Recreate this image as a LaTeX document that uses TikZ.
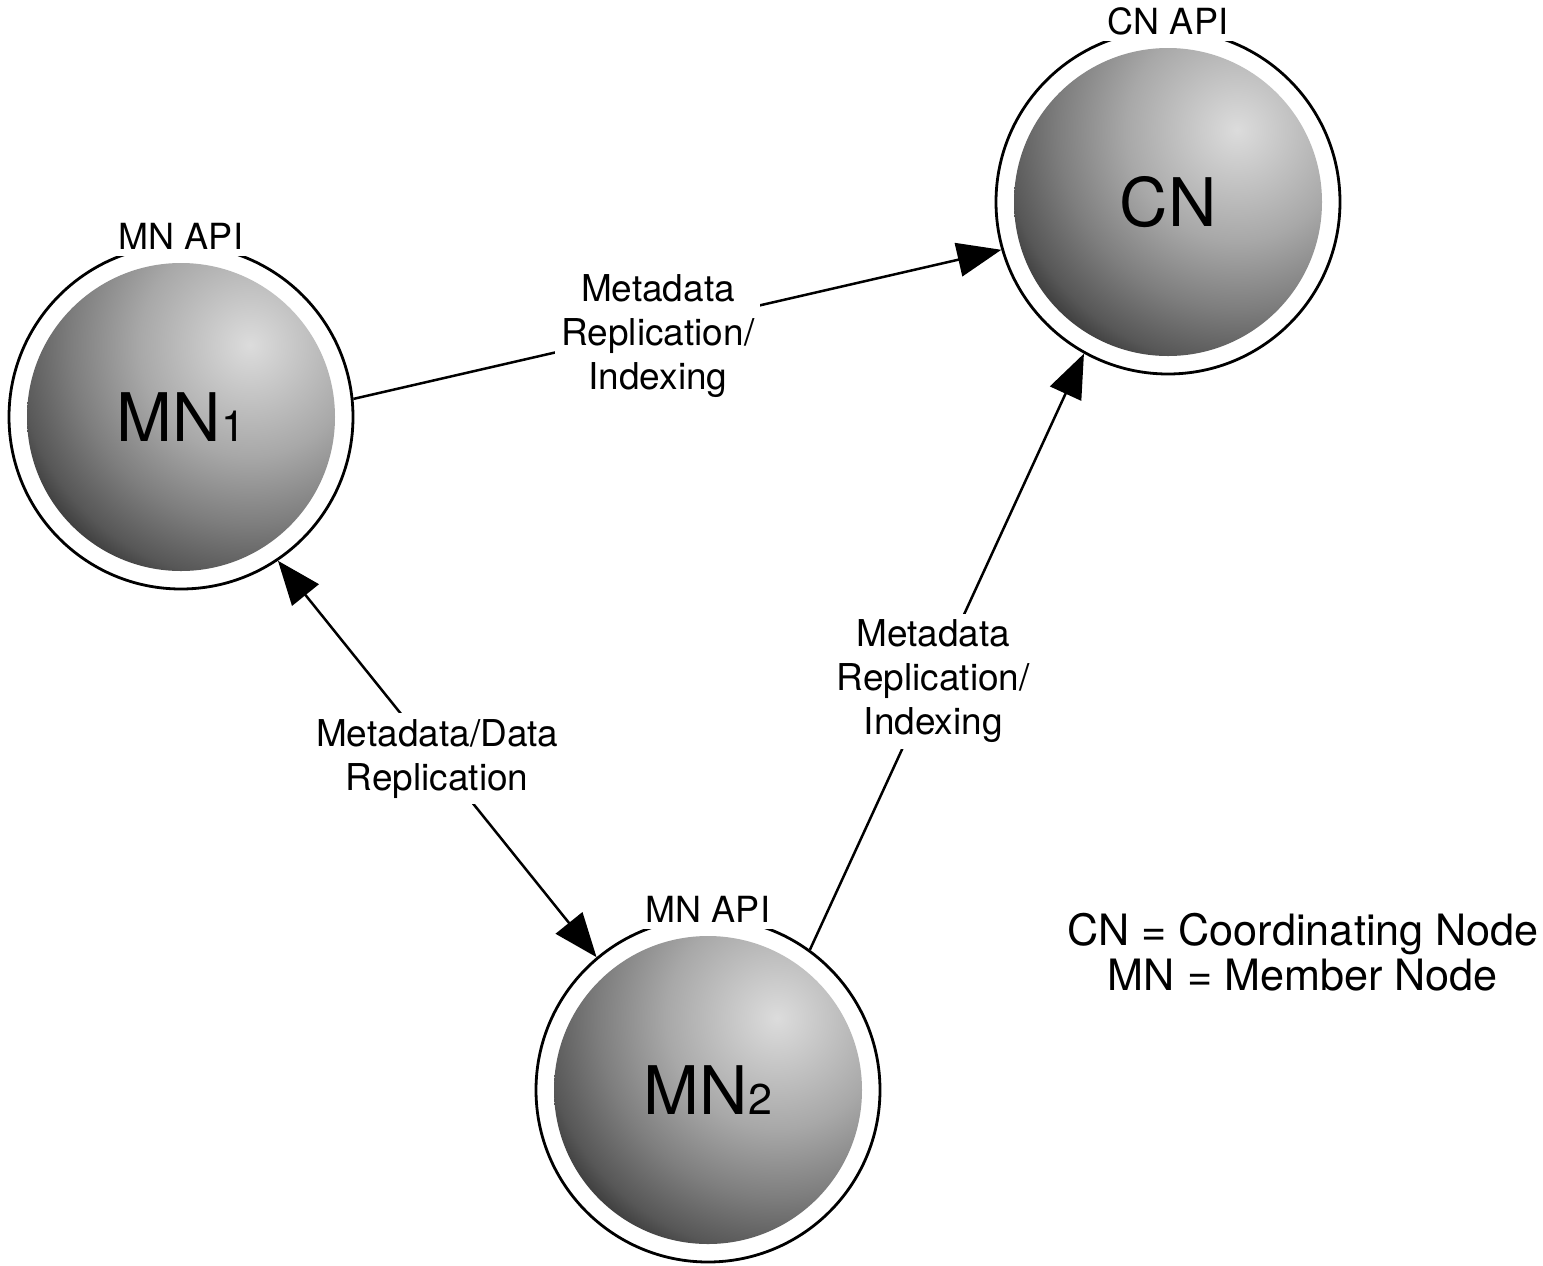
\documentclass[tikz,border=0pt]{standalone}
\usepackage{fontspec}
\setmainfont{TeX Gyre Heros}
\usetikzlibrary{arrows.meta}

\definecolor{ballhi}{HTML}{DCDCDC}
\definecolor{ballmid}{HTML}{A8A8A8}
\definecolor{ballgrey}{HTML}{7E7E7E}
\definecolor{balldark}{HTML}{575757}
\definecolor{ballrim}{HTML}{3A3A3A}
\pgfdeclareradialshading{sphere}{\pgfpointorigin}{color(0bp)=(ballhi); color(9bp)=(ballmid); color(14.5bp)=(ballgrey); color(19bp)=(balldark); color(21bp)=(ballrim); color(50bp)=(ballrim)}

\begin{document}
\begin{tikzpicture}[x=0.5pt, y=-0.5pt, >={Triangle[length=22pt,width=17pt]},
    ring/.style={circle, draw, line width=1.4pt, fill=white, minimum size=172pt, inner sep=0pt},
    ball/.style={circle, minimum size=154pt, inner sep=0pt,
        path picture={\shade[shading=sphere] ([xshift=34.5pt,yshift=36pt]path picture bounding box.center) circle (154pt);}},
    api/.style={fill=white, inner sep=3pt, font=\fontsize{18}{22}\selectfont},
    lbl/.style={fill=white, inner sep=3pt, align=center, font=\fontsize{18.5}{22}\selectfont},
    link/.style={line width=1.25pt}]
    \useasboundingbox (0,0) rectangle (1543,1265);

    % Nodes: outer ring, then the shaded ball
    \node[ring] (mn1) at (181,417) {};
    \node[ball] (mn1 ball) at (mn1) {\fontsize{33.5}{40}\selectfont MN{\fontsize{21.5}{25}\selectfont 1}};
    \node[ring] (cn) at (1168,202) {};
    \node[ball] (cn ball) at (cn) {\fontsize{33.5}{40}\selectfont CN};
    \node[ring] (mn2) at (708,1090) {};
    \node[ball] (mn2 ball) at (mn2) {\fontsize{33.5}{40}\selectfont MN{\fontsize{21.5}{25}\selectfont 2}};

    % API labels, breaking the rings
    \node[api] (mn1 api) at ([yshift=3.5pt]mn1.north) {MN API};
    \node[api] (cn api) at ([yshift=3.5pt]cn.north) {CN API};
    \node[api] (mn2 api) at ([yshift=3.5pt]mn2.north) {MN API};

    % Links
    \draw[link, ->] (mn1.6) -- node[lbl, pos=.47, yshift=-3.5pt] {Metadata\\Replication/\\Indexing} (cn.196);
    \draw[link, ->] (mn2.54) -- node[lbl, pos=.45] {Metadata\\Replication/\\Indexing} (cn.241);
    \draw[link, <->] (mn1.304) -- node[lbl, pos=.5] {Metadata/Data\\Replication} (mn2.130);

    % Key
    \node[align=center, font=\fontsize{21.6}{22.5}\selectfont] (key) at (1303,952) {CN = Coordinating Node\\MN = Member Node};
\end{tikzpicture}
\end{document}
